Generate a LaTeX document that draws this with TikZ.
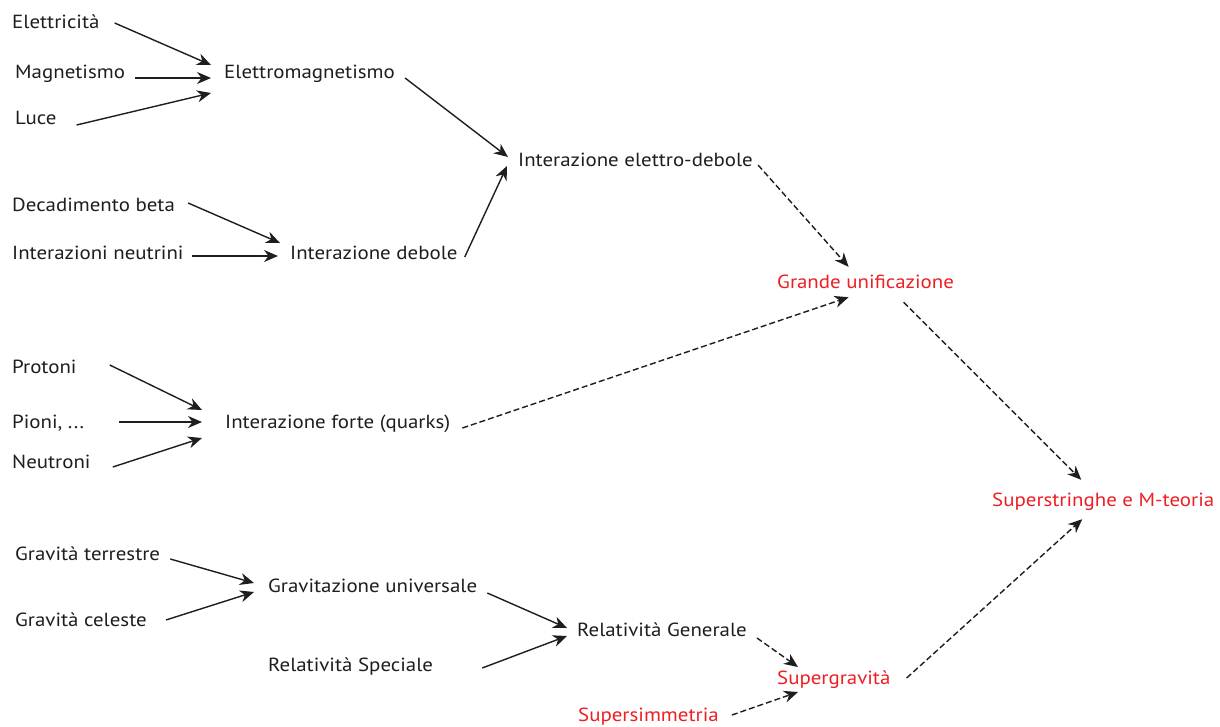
\documentclass[tikz,border=0pt]{standalone}
\usepackage{fontspec}
\setmainfont[FakeStretch=1.1]{PT Sans}
\usetikzlibrary{arrows.meta,calc}
\definecolor{hl}{RGB}{237,30,36}
\definecolor{ink}{RGB}{30,30,30}
\begin{document}
\begin{tikzpicture}[x=1pt,y=-1pt,
  lbl/.style={anchor=west,inner sep=0pt,text height=12pt,text depth=0pt,text=ink,font=\fontsize{19}{22}\selectfont},
  red/.style={lbl,text=hl},
  arr/.style={line width=1.4pt,draw=ink,-{Stealth[length=14pt,width=12pt,inset=4.5pt]}},
  darr/.style={arr,dash pattern=on 6pt off 3pt}]
\path[use as bounding box,fill=white] (0,0) rectangle (1220,726);
% nodes
\node[lbl] (ele) at (12,22) {Elettricità};
\node[lbl] (mag) at (15,72) {Magnetismo};
\node[lbl] (luce) at (15,118) {Luce};
\node[lbl] (em) at (224,72) {Elettromagnetismo};
\node[lbl] (ied) at (518,160) {Interazione elettro-debole};
\node[lbl] (dec) at (12,205) {Decadimento beta};
\node[lbl] (neu) at (12,253) {Interazioni neutrini};
\node[lbl] (id) at (290,253) {Interazione debole};
\node[red] (gu) at (777,282) {Grande unificazione};
\node[lbl] (pro) at (12,367) {Protoni};
\node[lbl] (pio) at (12,422) {Pioni, ...};
\node[lbl] (if) at (225,422) {Interazione forte (quarks)};
\node[lbl] (neutr) at (12,462) {Neutroni};
\node[red] (sm) at (992,500) {Superstringhe e M-teoria};
\node[lbl] (gt) at (15,554) {Gravità terrestre};
\node[lbl] (gc) at (15,620) {Gravità celeste};
\node[lbl] (gun) at (268,586) {Gravitazione universale};
\node[lbl] (rs) at (268,665) {Relatività Speciale};
\node[lbl] (rg) at (577,630) {Relatività Generale};
\node[red] (sg) at (777,678) {Supergravità};
\node[red] (ss) at (578,715) {Supersimmetria};
% connectors
\draw[arr] ($(ele.east)+(15,1)$) -- ($(em.west)+(-13,-7)$);
\draw[arr] ($(mag.east)+(10,6)$) -- ($(em.west)+(-13,6)$);
\draw[arr] ($(luce.east)+(20,7)$) -- ($(em.west)+(-13,21)$);
\draw[arr] ($(em.east)+(10,6)$) -- ($(ied.west)+(-10,-3)$);
\draw[arr] ($(dec.east)+(13,-2)$) -- ($(id.west)+(-10,-10)$);
\draw[arr] ($(neu.east)+(8,3)$) -- ($(id.west)+(-12,3)$);
\draw[arr] ($(id.east)+(7,4)$) -- ($(ied.west)+(-11,6)$);
\draw[darr] ($(ied.east)+(5,5)$) -- ($(gu.north)+(-17,-9)$);
\draw[darr] ($(if.east)+(12,6)$) -- ($(gu.south)+(-17,9)$);
\draw[darr] ($(gu.south)+(38,14)$) -- ($(sm.north)+(-22,-14)$);
\draw[arr] ($(pro.east)+(33,-2)$) -- ($(if.west)+(-23,-12)$);
\draw[arr] ($(pio.east)+(35,0)$) -- ($(if.west)+(-23,0)$);
\draw[arr] ($(neutr.east)+(22,5)$) -- ($(if.west)+(-23,16)$);
\draw[arr] ($(gt.east)+(10,5)$) -- ($(gun.west)+(-14,-3)$);
\draw[arr] ($(gc.east)+(19,0)$) -- ($(gun.west)+(-14,6)$);
\draw[arr] ($(gun.east)+(10,7)$) -- ($(rg.west)+(-10,-2)$);
\draw[arr] ($(rs.east)+(49,3)$) -- ($(rg.west)+(-10,6)$);
\draw[darr] ($(rg.east)+(10,8)$) -- ($(sg.west)+(21,-11)$);
\draw[darr] ($(ss.east)+(13,0)$) -- ($(sg.west)+(21,14)$);
\draw[darr] ($(sg.east)+(16,0)$) -- ($(sm.south)+(-21,13)$);
\end{tikzpicture}
\end{document}
